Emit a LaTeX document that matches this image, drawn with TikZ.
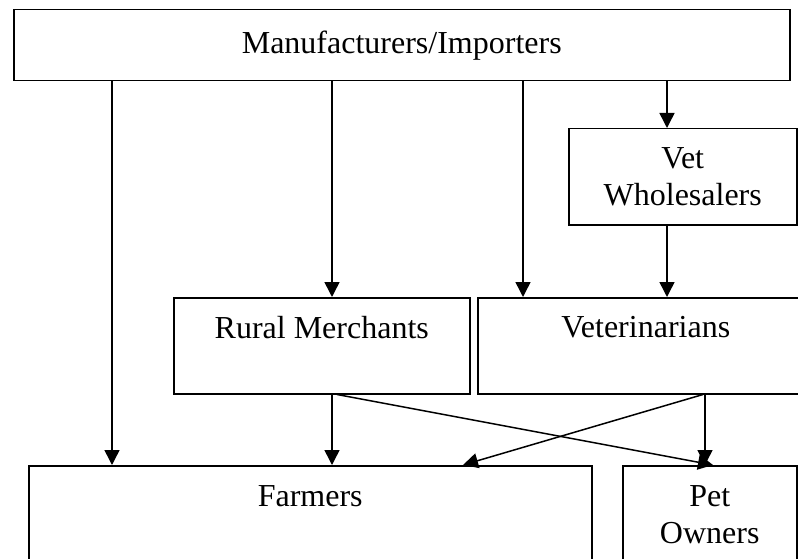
\documentclass[tikz,border=0pt]{standalone}
\usepackage{fontspec}
\setmainfont{Liberation Serif}
\usetikzlibrary{arrows.meta}
\tikzset{
  box/.style={draw, line width=1.5pt, rectangle, inner sep=0pt, anchor=north west,
    align=center, font=\fontsize{32}{37}\selectfont},
  arr/.style={-{Triangle[length=15pt,width=15pt]}, line width=1.5pt}
}
\begin{document}
\begin{tikzpicture}[x=1pt,y=-1pt]
\useasboundingbox (0,0) rectangle (798,559);
\node[box, minimum width=776pt, minimum height=71pt] (top) at (13,9) {Manufacturers/Importers};
\node[box, minimum width=228pt, minimum height=96pt] (vw) at (568,128) {Vet\\Wholesalers};
\node[box, minimum width=296pt, minimum height=96pt] (rm) at (173,297) {Rural Merchants\\\mbox{}};
\node[box, minimum width=336pt, minimum height=96pt] (vet) at (477,297) {Veterinarians\\\mbox{}};
\node[box, minimum width=563pt, minimum height=97pt] (fa) at (28,465) {Farmers\\\mbox{}};
\node[box, minimum width=174pt, minimum height=134pt] (po) at (622,465) {Pet\\Owners\\\mbox{}};
\coordinate (c1) at (112,0);
\coordinate (c2) at (332,0);
\coordinate (c3) at (523,0);
\coordinate (c4) at (667,0);
\coordinate (c5) at (705,0);
\coordinate (d1) at (337,0);
\coordinate (d2) at (713,0);
\coordinate (d3) at (703,0);
\coordinate (d4) at (463,0);
\draw[arr] (top.south -| c1) -- (fa.north -| c1);
\draw[arr] (top.south -| c2) -- (rm.north -| c2);
\draw[arr] (top.south -| c3) -- (vet.north -| c3);
\draw[arr] (top.south -| c4) -- (vw.north -| c4);
\draw[arr] (vw.south -| c4) -- (vet.north -| c4);
\draw[arr] (rm.south -| c2) -- (fa.north -| c2);
\draw[arr] (rm.south -| d1) -- (po.north -| d2);
\draw[arr] (vet.south -| d3) -- (fa.north -| d4);
\draw[arr] (vet.south -| c5) -- (po.north -| c5);
\end{tikzpicture}
\end{document}
